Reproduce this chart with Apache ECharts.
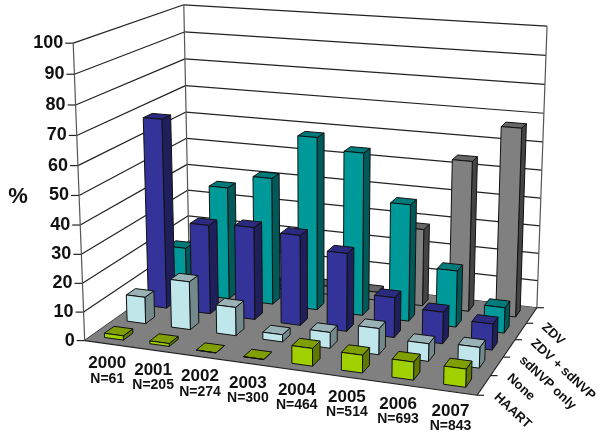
<!DOCTYPE html>
<html>
<head>
<meta charset="utf-8">
<style>
html, body { margin: 0; padding: 0; background: #fff; }
#chart { width: 600px; height: 443px; }
</style>
<script src="https://cdn.jsdelivr.net/npm/echarts@6/dist/echarts.min.js"></script>
</head>
<body>
<div id="chart"></div>
<script>
var years = ['2000', '2001', '2002', '2003', '2004', '2005', '2006', '2007'];
var sampleSizes = ['N=61', 'N=205', 'N=274', 'N=300', 'N=464', 'N=514', 'N=693', 'N=843'];
var yTicks = [0, 10, 20, 30, 40, 50, 60, 70, 80, 90, 100];
var regimens = ['HAART', 'None', 'sdNVP only', 'ZDV + sdNVP', 'ZDV'];

var haart = [1.5, 1, 0, 0, 6, 6, 6, 6];
var none = [9.5, 17, 10, 2.5, 5.5, 9, 6, 7];
var sdnvpOnly = [68, 32, 33, 32, 27.5, 14, 11, 9];
var zdvSdnvp = [17, 41, 46, 62, 58, 41.5, 20, 9];
var zdv = [1, 1, 1, 3, 3, 28, 54, 67];

var barValues = [haart, none, sdnvpOnly, zdvSdnvp, zdv];
// front, top, side
var barColors = [
  ['#a0d000', '#7f9f00', '#5f7800'],
  ['#bfe6ea', '#98b2b6', '#74898c'],
  ['#333399', '#2a2a80', '#1f1f5c'],
  ['#009999', '#007b7b', '#005a5a'],
  ['#808080', '#666666', '#444444']
];

// 3d box is years (0-8), depth rows (0-5), percent (0-100)
// projection is fitted on where the corners of the box sit in the picture
var corners = [
  [0, 0, 0, 85, 341], [0, 0, 100, 73, 43],
  [8, 0, 0, 477, 395],
  [8, 5, 0, 537, 308], [8, 5, 100, 547, 26],
  [0, 5, 0, 189, 266], [0, 5, 100, 184, 5]
];
var barSize = 0.42;

function fitProjection(pts) {
  var rows = [], rhs = [];
  pts.forEach(function (p) {
    var X = p[0], Y = p[1], Z = p[2], u = p[3], v = p[4];
    rows.push([X, Y, Z, 1, 0, 0, 0, 0, -u * X, -u * Y, -u * Z]); rhs.push(u);
    rows.push([0, 0, 0, 0, X, Y, Z, 1, -v * X, -v * Y, -v * Z]); rhs.push(v);
  });
  var n = 11, A = [];
  for (var i = 0; i < n; i++) {
    A[i] = [];
    for (var j = 0; j <= n; j++) {
      var s = 0;
      for (var k = 0; k < rows.length; k++) {
        s += rows[k][i] * (j < n ? rows[k][j] : rhs[k]);
      }
      A[i][j] = s;
    }
  }
  for (i = 0; i < n; i++) {
    var best = i;
    for (k = i + 1; k < n; k++) {
      if (Math.abs(A[k][i]) > Math.abs(A[best][i])) best = k;
    }
    var t = A[i]; A[i] = A[best]; A[best] = t;
    for (k = 0; k < n; k++) {
      if (k === i) continue;
      var f = A[k][i] / A[i][i];
      for (j = i; j <= n; j++) A[k][j] -= f * A[i][j];
    }
  }
  var out = [];
  for (i = 0; i < n; i++) out[i] = A[i][n] / A[i][i];
  return out;
}
var P = fitProjection(corners);

function project(x, y, z) {
  var w = P[8] * x + P[9] * y + P[10] * z + 1;
  return [
    (P[0] * x + P[1] * y + P[2] * z + P[3]) / w,
    (P[4] * x + P[5] * y + P[6] * z + P[7]) / w
  ];
}

function poly(points, fill, lineW) {
  return {
    type: 'polygon',
    shape: { points: points },
    style: { fill: fill, stroke: '#111', lineWidth: lineW === undefined ? 1 : lineW, lineJoin: 'round' }
  };
}
function seg(a, b, color) {
  return {
    type: 'line',
    shape: { x1: a[0], y1: a[1], x2: b[0], y2: b[1] },
    style: { stroke: color || '#222', lineWidth: 1.2 }
  };
}
function label(text, x, y, font, opts) {
  opts = opts || {};
  return {
    type: 'text',
    x: x,
    y: y,
    rotation: opts.rotation || 0,
    style: {
      text: text,
      font: font,
      fill: '#111',
      align: opts.align || 'center',
      verticalAlign: 'middle'
    }
  };
}

function renderFrame() {
  var kids = [];
  kids.push(poly([project(0, 0, 100), project(0, 5, 100), project(0, 5, 0), project(0, 0, 0)], '#fff', 0));
  kids.push(poly([project(0, 5, 100), project(8, 5, 100), project(8, 5, 0), project(0, 5, 0)], '#fff', 0));
  yTicks.forEach(function (t) {
    var a = project(0, 0, t);
    kids.push(seg(a, project(0, 5, t)));
    kids.push(seg(project(0, 5, t), project(8, 5, t)));
    kids.push(seg([a[0] - 8, a[1]], a));
    kids.push(label(String(t), a[0] - 10, a[1], 'bold 18px "Liberation Sans"', { align: 'right' }));
  });
  kids.push(seg(project(0, 0, 0), project(0, 0, 100), '#555'));
  kids.push(seg(project(0, 5, 0), project(0, 5, 100), '#555'));
  kids.push(seg(project(8, 5, 0), project(8, 5, 100), '#555'));
  kids.push(poly([project(0, 0, 0), project(8, 0, 0), project(8, 5, 0), project(0, 5, 0)], '#808080', 0));
  kids.push(seg(project(0, 0, 0), project(8, 0, 0)));
  kids.push(seg(project(8, 0, 0), project(8, 5, 0)));
  for (var d = 0; d <= 5; d++) {
    var p = project(8, d, 0);
    kids.push(seg(p, [p[0] + 7, p[1]]));
  }
  years.forEach(function (y, i) {
    var p = project(i + 0.5, 0, 0);
    kids.push(label(y, p[0], p[1] + 20, 'bold 17px "Liberation Sans"'));
    kids.push(label(sampleSizes[i], p[0], p[1] + 35, 'bold 14px "Liberation Sans"'));
  });
  regimens.forEach(function (name, r) {
    var p = project(8, r + 0.5, 0);
    kids.push(label(name, p[0] + 12, p[1] + 10, 'bold 13px "Liberation Sans"', { align: 'left', rotation: -0.75 }));
  });
  kids.push(label('%', 18, 197, 'bold 22px "Liberation Sans"'));
  return { type: 'group', children: kids };
}

function renderBar(row) {
  return function (params, api) {
    var i = api.value(0), v = api.value(1);
    var gap = (1 - barSize) / 2;
    var x0 = i + gap, x1 = i + 1 - gap, y0 = row + gap, y1 = row + 1 - gap;
    var c = barColors[row];
    return {
      type: 'group',
      children: [
        poly([project(x1, y0, 0), project(x1, y1, 0), project(x1, y1, v), project(x1, y0, v)], c[2]),
        poly([project(x0, y0, v), project(x1, y0, v), project(x1, y1, v), project(x0, y1, v)], c[1]),
        poly([project(x0, y0, 0), project(x1, y0, 0), project(x1, y0, v), project(x0, y0, v)], c[0])
      ]
    };
  };
}

var series = [{
  type: 'custom',
  coordinateSystem: 'none',
  silent: true,
  data: [[0]],
  renderItem: renderFrame
}];
// back row first, so the nearer rows cover it
for (var r = regimens.length - 1; r >= 0; r--) {
  series.push({
    type: 'custom',
    name: regimens[r],
    coordinateSystem: 'none',
    data: barValues[r].map(function (v, i) { return [i, v]; }),
    encode: { x: 0, y: 1 },
    renderItem: renderBar(r)
  });
}

var myChart = echarts.init(document.getElementById('chart'));
myChart.setOption({
  animation: false,
  backgroundColor: '#fff',
  series: series
});
</script>
</body>
</html>
